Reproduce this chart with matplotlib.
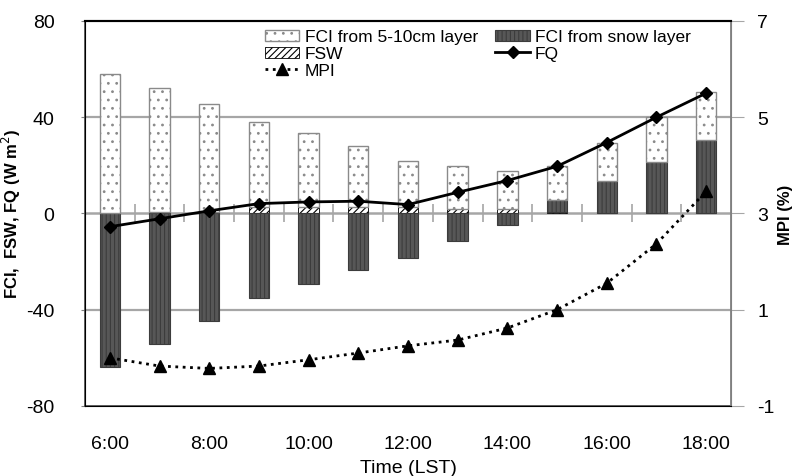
import numpy as np
import matplotlib
matplotlib.use('Agg')
import matplotlib.pyplot as plt

plt.rcParams['font.family'] = ['Liberation Sans', 'DejaVu Sans']
plt.rcParams['hatch.linewidth'] = 0.8
plt.rcParams['axes.unicode_minus'] = False

hours = ['6:00', '7:00', '8:00', '9:00', '10:00', '11:00', '12:00',
         '13:00', '14:00', '15:00', '16:00', '17:00', '18:00']
# bar segments, stacked in this order: FSW, snow layer, 5-10cm layer
fsw = [0.0, 0.8, 0.6, 2.8, 2.8, 2.9, 2.9, 2.0, 2.0, 0.5, 0.3, 0.3, 0.3]
fci_snow = [-64.0, -54.4, -44.7, -35.0, -29.5, -23.5, -18.7, -11.5, -4.6,
            5.1, 13.1, 21.3, 30.3]
fci_soil = [58.0, 51.2, 45.0, 35.2, 30.8, 25.3, 19.1, 17.9, 15.8,
            14.0, 16.1, 18.4, 20.0]
fq = [-5.5, -2.2, 1.1, 4.1, 4.8, 5.1, 3.7, 8.8, 13.7, 19.6, 29.5, 40.0, 50.0]
mpi = [0.0, -0.17, -0.22, -0.17, -0.04, 0.1, 0.25, 0.37, 0.62, 1.0, 1.55,
       2.37, 3.46]

x = np.arange(len(hours))
w = 0.41

# stack positives upward and negatives downward
pos = np.zeros(len(x))
neg = np.zeros(len(x))


def stack(vals):
    vals = np.asarray(vals, dtype=float)
    bottoms = np.where(vals >= 0, pos, neg)
    pos[:] = pos + np.clip(vals, 0, None)
    neg[:] = neg + np.clip(vals, None, 0)
    return vals, bottoms


fig = plt.figure(figsize=(7.97, 4.77), dpi=100)
ax = fig.add_axes([0.1066, 0.1468, 0.8106, 0.8071])

ax.axhline(40, color='#a6a6a6', lw=1.6, zorder=0)
ax.axhline(-40, color='#a6a6a6', lw=1.6, zorder=0)
ax.axhline(0, color='#a6a6a6', lw=1.8, zorder=0.5)

v, b = stack(fsw)
b_fsw = ax.bar(x, v, w, bottom=b, facecolor='white', edgecolor='black',
               hatch='/////', lw=0.6, zorder=2)
v, b = stack(fci_snow)
b_snow = ax.bar(x, v, w, bottom=b, facecolor='#575757', edgecolor='#3c3c3c',
                hatch='||||', lw=0.8, zorder=2)
v, b = stack(fci_soil)
b_soil = ax.bar(x, v, w, bottom=b, facecolor='white', edgecolor='#8a8a8a',
                hatch='..', lw=1.0, zorder=2)

l_fq, = ax.plot(x, fq, color='black', lw=2, marker='D', ms=6, zorder=4)

ax.set_xlim(-0.5, len(x) - 0.5)
ax.set_ylim(-80, 80)
ax.set_yticks([-80, -40, 0, 40, 80])
ax.set_xticks(x[::2])
ax.set_xticklabels(hours[::2])
ax.tick_params(axis='x', length=0, pad=21, labelsize=14)
ax.tick_params(axis='y', length=3, color='#808080', labelsize=14, pad=19)
for s in ['left', 'bottom']:
    ax.spines[s].set_color('#555555')
    ax.spines[s].set_linewidth(1.3)
ax.spines['top'].set_color('black')
ax.spines['top'].set_linewidth(1.5)
ax.spines['right'].set_color('#808080')
ax.set_ylabel('FCI,  FSW, FQ (W m$^{2}$)', fontsize=12, fontweight='bold',
              labelpad=2)
ax.set_xlabel('Time (LST)', fontsize=14, labelpad=5)

# category axis crossing at zero with marks between categories
sec = ax.secondary_xaxis(0.5)
sec.set_xticks(x[:-1] + 0.5)
sec.tick_params(axis='x', direction='inout', length=13, width=1.2,
                color='#a6a6a6', labelbottom=False, labeltop=False)
sec.spines['bottom'].set_visible(False)
sec.spines['top'].set_visible(False)

ax2 = ax.twinx()
l_mpi, = ax2.plot(x, mpi, color='black', lw=2, ls=':', marker='^', ms=8)
ax2.set_ylim(-1, 7)
ax2.set_yticks([-1, 1, 3, 5, 7])
ax2.tick_params(axis='y', length=9, color='#a6a6a6', labelsize=14, pad=10)
ax2.spines['right'].set_color('#808080')
ax2.spines['right'].set_linewidth(1.3)
ax2.spines['top'].set_color('black')
ax2.spines['top'].set_linewidth(1.5)
ax2.set_ylabel('MPI (%)', fontsize=12, fontweight='bold', labelpad=2)

handles = [b_soil, b_fsw, l_mpi, b_snow, l_fq]
labels = ['FCI from 5-10cm layer', 'FSW', 'MPI', 'FCI from snow layer', 'FQ']
ax2.legend(handles, labels, ncol=2, loc='upper left',
           bbox_to_anchor=(0.262, 1.005), frameon=False, fontsize=12.5,
           labelspacing=0.1, handlelength=2.0, handleheight=0.6,
           handletextpad=0.3, columnspacing=1.0, borderaxespad=0.2)

fig.savefig('out.png', dpi=100)
